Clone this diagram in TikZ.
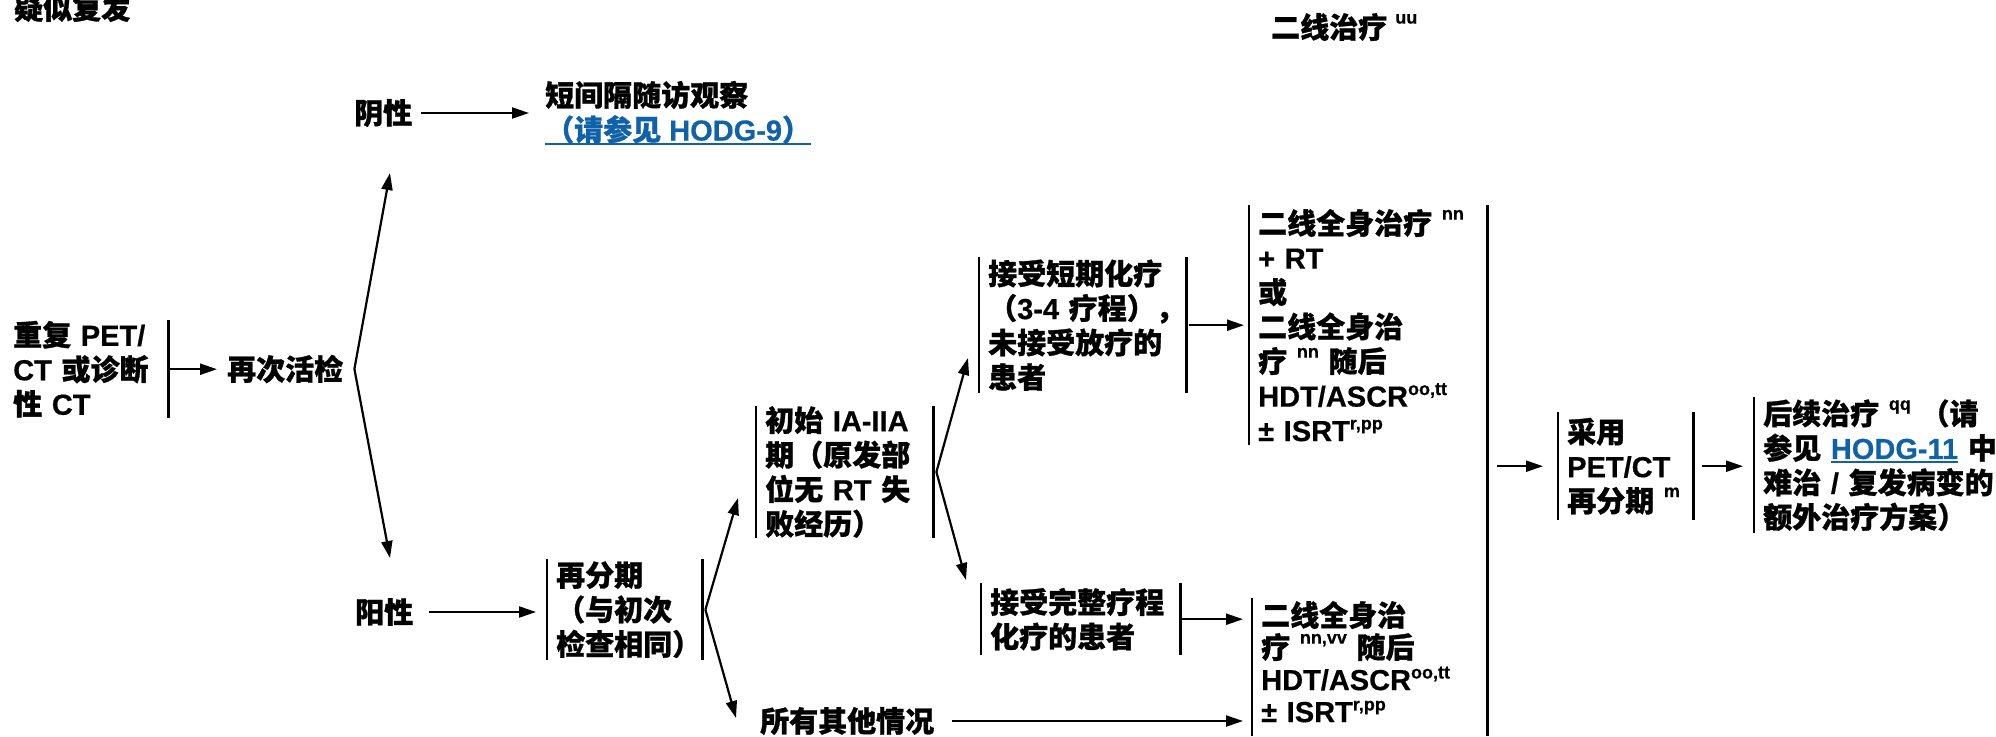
\documentclass[tikz,border=0pt]{standalone}
\usepackage{fontspec}
\setmainfont{Liberation Sans}[BoldFeatures={FakeBold=0.5}]
\newfontfamily\cjk{Noto Sans CJK SC}[BoldFeatures={FakeBold=1.0}]
\usetikzlibrary{arrows.meta}
\definecolor{linkblue}{RGB}{16,98,168}
\newcommand\ZH[1]{{\cjk #1}}
\newcommand\sps[1]{\raisebox{0.5em}{\fontsize{18}{18}\selectfont #1}}
\newcommand\spl[1]{\raisebox{0.4em}{\fontsize{18}{18}\selectfont #1}}
\newcommand\ulink[1]{{\color{linkblue}\setbox0=\hbox{#1}\rlap{\rule[-4.5pt]{\wd0}{2pt}}\box0}}
\newcommand\mainfs{\fontsize{29}{34.5}\selectfont\bfseries}
\begin{document}
\begin{tikzpicture}[x=1pt,y=-1pt,
  every node/.style={font=\mainfs,inner sep=0pt},
  bx/.style={rectangle,inner xsep=9pt,inner ysep=0pt,align=left,anchor=north west},
  barln/.style={line width=2.6pt},
  arr/.style={line width=2.2pt,-{Triangle[length=17pt,width=11pt]}}]
\useasboundingbox (0,0) rectangle (1996,736);

% texts
\node[anchor=west] (title) at (14,8) {\ZH{疑似复发}};
\node[anchor=west] (l2t) at (1271,27) {\ZH{二线治疗} \sps{uu}};
\node[anchor=west] (neg) at (354,113) {\ZH{阴性}};
\node[anchor=west,align=left] (fu) at (545,113) {\ZH{短间隔随访观察}\\\ulink{\ZH{（请参见} HODG-9\ZH{）}}};
\node[bx,text width=146pt,minimum height=98pt] (start) at (4,320) {\ZH{重复} PET/\\CT \ZH{或诊断}\\\ZH{性} CT};
\node[anchor=west] (rebx) at (227,369) {\ZH{再次活检}};
\node[anchor=west] (pos) at (355,612) {\ZH{阳性}};
\node[bx,text width=137pt,minimum height=101pt] (rs) at (547,559) {\ZH{再分期}\\\ZH{（与初次}\\\ZH{检查相同）}};
\node[bx,text width=159pt,minimum height=129pt] (init) at (756,406) {\mbox{\ZH{初始} IA-IIA}\\\ZH{期（原发部}\\\mbox{\ZH{位无} RT \ZH{失}}\\\ZH{败经历）}};
\node[bx,text width=189pt,minimum height=136pt] (short) at (979,257) {\ZH{接受短期化疗}\\\mbox{\ZH{（}3-4 \ZH{疗程），}}\\\ZH{未接受放疗的}\\\ZH{患者}};
\node[bx,text width=181pt,minimum height=72pt] (full) at (981,583) {\ZH{接受完整疗程}\\\ZH{化疗的患者}};
\node[anchor=west] (other) at (760,721) {\ZH{所有其他情况}};
\node[bx,text width=220pt,minimum height=240pt] (sysA) at (1249,205) {\mbox{\ZH{二线全身治疗} \sps{nn}}\\+ RT\\\ZH{或}\\\ZH{二线全身治}\\\mbox{\ZH{疗} \sps{nn} \ZH{随后}}\\HDT/ASCR\spl{oo,tt}\\± ISRT\spl{r,pp}};
\node[bx,text width=217pt,minimum height=127pt,font={\fontsize{29}{32}\selectfont\bfseries}] (sysB) at (1252,598) {\ZH{二线全身治}\\\mbox{\ZH{疗} \sps{nn,vv} \ZH{随后}}\\HDT/ASCR\spl{oo,tt}\\± ISRT\spl{r,pp}};
\node[bx,text width=117pt,minimum height=108pt] (pet) at (1558,412) {\ZH{采用}\\PET/CT\\\mbox{\ZH{再分期} \sps{m}}};
\node[bx,text width=250pt,minimum height=136pt] (next) at (1754,397) {\mbox{\ZH{后续治疗} \sps{qq} \ZH{（请}}\\\mbox{\ZH{参见} \ulink{HODG-11} \ZH{中}}\\\mbox{\ZH{难治} / \ZH{复发病变的}}\\\ZH{额外治疗方案）}};

% helper coordinates
\coordinate (bot) at (0,736);
\coordinate (v1) at ([xshift=11pt]rebx.east);
\coordinate (t1) at (390,173);
\coordinate (t2) at (390,558);
\coordinate (v2) at ([xshift=3pt]rs.east);
\coordinate (t3) at (738,498);
\coordinate (t4) at (736,718);
\coordinate (v3) at ([xshift=3pt]init.east);
\coordinate (t5) at (968,358);
\coordinate (t6) at (966,580);
\coordinate (ls) at (sysA.east |- pet.west);

% bars
\draw[barln] (start.north east) -- (start.south east);
\foreach \n in {rs,init,short,full,pet}{
  \draw[barln] (\n.north west) -- (\n.south west) (\n.north east) -- (\n.south east);}
\draw[barln] (sysA.north west) -- (sysA.south west);
\draw[barln] (sysB.north west) -- (sysB.west |- bot);
\draw[barln] (sysA.north east) -- (sysA.east |- bot);
\draw[barln] (next.north west) -- (next.south west);

% connectors
\draw[arr] ([xshift=9pt]neg.east) -- ([xshift=-16pt]fu.west);
\draw[arr,shorten >=10pt] (start.east) -- (start.east -| rebx.west);
\draw[arr] (v1) -- (t1);
\draw[arr] (v1) -- (t2);
\draw[arr,shorten >=11pt] ([xshift=16pt]pos.east) -- (pos.east -| rs.west);
\draw[arr] (v2) -- (t3);
\draw[arr] (v2) -- (t4);
\draw[arr] (v3) -- (t5);
\draw[arr] (v3) -- (t6);
\draw[arr,shorten >=5pt] ([xshift=3pt]short.east) -- (short.east -| sysA.west);
\draw[arr,shorten >=9pt] (full.east) -- (full.east -| sysB.west);
\draw[arr,shorten >=9pt] ([xshift=18pt]other.east) -- (other.east -| sysB.west);
\draw[arr] ([xshift=10pt]ls) -- ([xshift=-15pt]pet.west);
\draw[arr,shorten >=11pt] ([xshift=9pt]pet.east) -- (pet.east -| next.west);
\end{tikzpicture}
\end{document}
